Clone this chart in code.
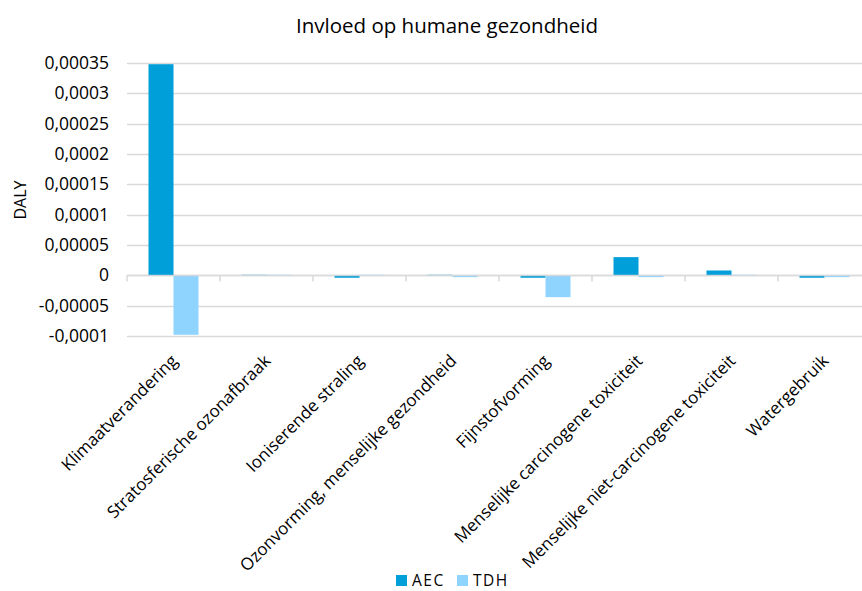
<!DOCTYPE html>
<html>
<head>
<meta charset="utf-8">
<script src="https://cdn.jsdelivr.net/npm/d3@7"></script>
<style>
  body { margin: 0; background: #fff; }
  svg { display: block; font-family: "Open Sans", sans-serif; }
</style>
</head>
<body>
<div id="chart"></div>
<script>
const title = "Invloed op humane gezondheid";
const yLabel = "DALY";
const categories = [
  "Klimaatverandering",
  "Stratosferische ozonafbraak",
  "Ioniserende straling",
  "Ozonvorming, menselijke gezondheid",
  "Fijnstofvorming",
  "Menselijke carcinogene toxiciteit",
  "Menselijke niet-carcinogene toxiciteit",
  "Watergebruik",
];
const seriesNames = ["AEC", "TDH"];
const aecValues = [0.000348, 0.0000009, -0.000004, 0.0000009, -0.000004, 0.00003, 0.000008, -0.000004];
const tdhValues = [-0.000098, 0.0000009, 0.0000009, -0.000003, -0.000036, -0.000003, 0.0000009, -0.000003];
const yTicks = [-0.0001, -0.00005, 0, 0.00005, 0.0001, 0.00015, 0.0002, 0.00025, 0.0003, 0.00035];
const colors = ["#009fda", "#8fd3ff"];

const width = 862;
const height = 591;
const margin = { top: 63, left: 127, bottom: 591 - 336 };
const bandStep = 93;

const svg = d3
  .select("#chart")
  .append("svg")
  .attr("width", width)
  .attr("height", height);

const x = d3
  .scaleBand()
  .domain(categories)
  .range([margin.left, margin.left + bandStep * categories.length]);

// two bars of ~25px centred in each 93px slot
const x1 = d3
  .scaleBand()
  .domain(seriesNames)
  .range([0, x.bandwidth()])
  .paddingOuter(0.86)
  .paddingInner(0);

const y = d3
  .scaleLinear()
  .domain([-0.0001, 0.00035])
  .range([height - margin.bottom, margin.top]);

const fmt = (v) => String(Number(v.toFixed(6))).replace(".", ",");

// gridlines
svg
  .append("g")
  .selectAll("line")
  .data(yTicks)
  .join("line")
  .attr("x1", margin.left)
  .attr("x2", width)
  .attr("y1", (d) => Math.round(y(d)) + 0.5)
  .attr("y2", (d) => Math.round(y(d)) + 0.5)
  .attr("stroke", "#d9d9d9")
  .attr("stroke-width", 1.5);

// y tick labels
svg
  .append("g")
  .selectAll("text")
  .data(yTicks)
  .join("text")
  .attr("x", 109)
  .attr("y", (d) => y(d))
  .attr("dy", "0.35em")
  .attr("text-anchor", "end")
  .attr("font-size", 17.5)
  .attr("fill", "#000")
  .text(fmt);

// y axis title
svg
  .append("text")
  .attr("transform", "translate(26,200) rotate(-90)")
  .attr("text-anchor", "middle")
  .attr("font-size", 16)
  .text(yLabel);

// bars
const groups = svg
  .append("g")
  .selectAll("g")
  .data(categories.map((c, i) => ({ c, vals: [aecValues[i], tdhValues[i]] })))
  .join("g")
  .attr("transform", (d) => `translate(${x(d.c)},0)`);

groups
  .selectAll("rect")
  .data((d) => d.vals.map((v, i) => ({ v, s: seriesNames[i], i })))
  .join("rect")
  .attr("x", (d) => x1(d.s))
  .attr("width", x1.bandwidth())
  .attr("y", (d) => Math.min(y(d.v), y(0)))
  .attr("height", (d) => Math.abs(y(d.v) - y(0)))
  .attr("fill", (d) => colors[d.i]);

// zero axis with tick marks
const zeroY = Math.round(y(0)) + 0.5;
svg
  .append("line")
  .attr("x1", margin.left)
  .attr("x2", width)
  .attr("y1", zeroY)
  .attr("y2", zeroY)
  .attr("stroke", "#d9d9d9")
  .attr("stroke-opacity", 0.85)
  .attr("stroke-width", 1.5);
svg
  .append("g")
  .selectAll("line")
  .data(d3.range(categories.length + 1))
  .join("line")
  .attr("x1", (i) => margin.left + i * bandStep)
  .attr("x2", (i) => margin.left + i * bandStep)
  .attr("y1", zeroY)
  .attr("y2", zeroY + 6)
  .attr("stroke", "#d9d9d9")
  .attr("stroke-width", 1.5);

// category labels
svg
  .append("g")
  .selectAll("text")
  .data(categories)
  .join("text")
  .attr("transform", (d) => `translate(${x(d) + x.bandwidth() / 2 + 5},362) rotate(-45)`)
  .attr("text-anchor", "end")
  .attr("font-size", 17)
  .attr("fill", "#000")
  .text((d) => d);

// title
svg
  .append("text")
  .attr("x", 447)
  .attr("y", 33)
  .attr("text-anchor", "middle")
  .attr("font-size", 20.5)
  .attr("fill", "#000")
  .text(title);

// legend
const legend = svg
  .append("g")
  .selectAll("g")
  .data(seriesNames)
  .join("g")
  .attr("transform", (d, i) => `translate(${396 + i * 61},575)`);
legend
  .append("rect")
  .attr("width", 11)
  .attr("height", 11)
  .attr("fill", (d, i) => colors[i]);
legend
  .append("text")
  .attr("x", 16)
  .attr("y", 11)
  .attr("font-size", 15.5)
  .attr("letter-spacing", 1.5)
  .text((d) => d);
</script>
</body>
</html>
